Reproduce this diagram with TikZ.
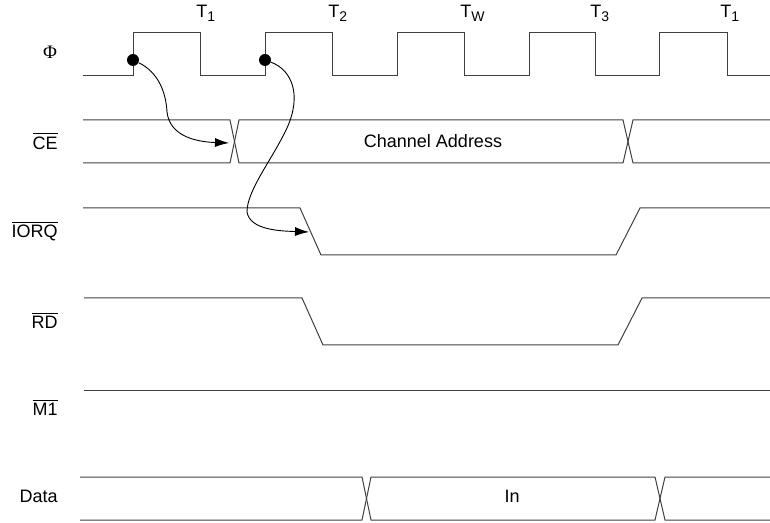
\documentclass[tikz,border=0pt]{standalone}
\usepackage{fontspec}
\setmainfont{Liberation Sans}
\newfontfamily\grfont{Liberation Serif}
\usetikzlibrary{arrows.meta,positioning}
\newcommand{\tsub}[1]{\raisebox{-0.45ex}{\fontsize{7}{8}\selectfont #1}}
\newcommand{\barsig}[1]{$\overline{\mbox{#1}}$}

\begin{document}
\begin{tikzpicture}[
  x=0.5pt, y=-0.5pt,
  font=\fontsize{9}{10}\selectfont,
  sig/.style={draw=black!75, line width=0.5pt},
  siglabel/.style={anchor=east, inner sep=0pt},
  tlabel/.style={anchor=south west, inner sep=0pt},
  dotnode/.style={circle, fill=black, inner sep=0pt, minimum size=6pt},
  ar/.style={-{Latex[length=7pt,width=4.5pt]}, line width=0.45pt},
]
\useasboundingbox (0,0) rectangle (770,523);
% signal names
\node[font=\grfont\fontsize{9.5}{10}\selectfont] (phi) at (50,52) {Φ};
\node[siglabel] (ce) at (58,141) {\barsig{CE}};
\node[siglabel] (iorq) at (58,231) {\barsig{IORQ}};
\node[siglabel] (rd) at (58,320) {\barsig{RD}};
\node[siglabel] (mone) at (58,407) {\barsig{M1}};
\node[siglabel] (data) at (58,496) {Data};
% clock
\draw[sig] (83,76) -- (133,76) -- (133,33) -- (200,33) -- (200,76) -- (265,76) -- (265,33)
  -- (332,33) -- (332,76) -- (397,76) -- (397,33) -- (464,33) -- (464,76) -- (529,76)
  -- (529,33) -- (595,33) -- (595,76) -- (659,76) -- (659,33) -- (727,33) -- (727,76) -- (770,76);
\foreach \x/\t/\n in {196/1/ta, 328/2/tb, 460/W/tw, 590/3/tc, 720/1/td}
  \node[tlabel] (\n) at (\x,22) {T\tsub{\t}};
% CE bus
\draw[sig] (83,120) -- (230,120) -- (239,163) -- (623,163) -- (633,120) -- (770,120);
\draw[sig] (83,163) -- (230,163) -- (239,120) -- (623,120) -- (633,163) -- (770,163);
\node (chaddr) at (433,141) {Channel Address};
% IORQ, RD, M1
\draw[sig] (83,208) -- (300,208) -- (321,255) -- (616,255) -- (640,208) -- (770,208);
\draw[sig] (84,298) -- (302,298) -- (323,345) -- (618,345) -- (642,298) -- (770,298);
\draw[sig] (84,390) -- (770,390);
% data bus
\draw[sig] (80,477) -- (362,477) -- (371,520) -- (655,520) -- (665,477) -- (770,477);
\draw[sig] (80,520) -- (362,520) -- (371,477) -- (655,477) -- (665,520) -- (770,520);
\node (din) at (512,496) {In};
% causal arrows
\node[dotnode] (dot1) at (133,60) {};
\node[dotnode] (dot2) at (265,60) {};
\coordinate (cecross) at (229,143);
\coordinate (iorqfall) at (309,232);
\draw[ar] (dot1) .. controls (158,72) and (166,92) .. (167,112)
  .. controls (170,138) and (200,142) .. (cecross);
\draw[ar] (dot2) .. controls (292,70) and (302,95) .. (287,128)
  .. controls (272,160) and (247,190) .. (247,212)
  .. controls (250,230) and (280,231) .. (iorqfall);
\end{tikzpicture}
\end{document}
